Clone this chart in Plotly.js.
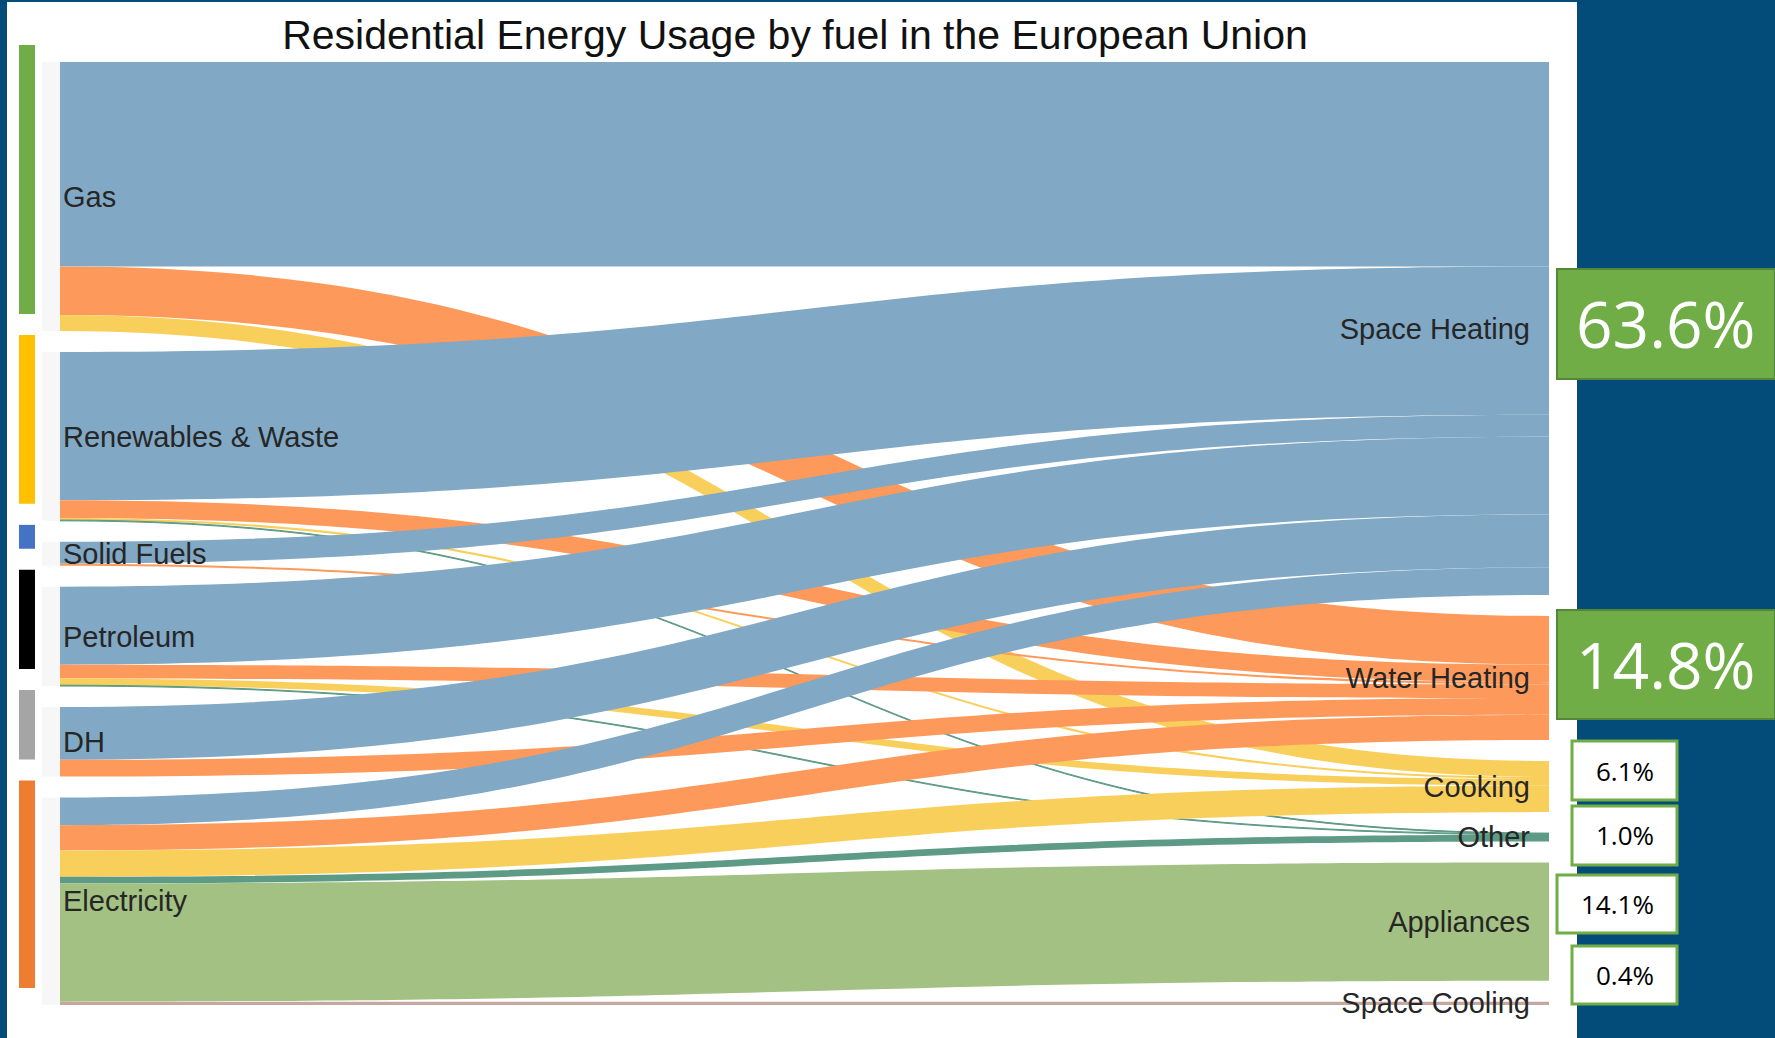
<!DOCTYPE html>
<html>
<head>
<meta charset="utf-8">
<script src="https://cdn.plot.ly/plotly-3.0.1.min.js"></script>
<style>
  html, body { margin: 0; padding: 0; background: #034b78; }
  #chart { width: 1775px; height: 1038px; }
</style>
</head>
<body>
<div id="chart"></div>
<script>
// ---------------- DATA ----------------
const fuels = ['Gas', 'Renewables & Waste', 'Solid Fuels', 'Petroleum', 'DH', 'Electricity'];
const endUses = ['Space Heating', 'Water Heating', 'Cooking', 'Other', 'Appliances', 'Space Cooling'];

// share of total residential energy use (%), fuel -> end use (same order as endUses)
const gasToUse         = [24.4, 5.8,  1.9,  0,   0,    0];
const renewablesToUse  = [17.7, 2.1,  0.25, 0.1, 0,    0];
const solidFuelsToUse  = [2.6,  0.25, 0,    0,   0,    0];
const petroleumToUse   = [9.3,  1.65, 0.8,  0.1, 0,    0];
const dhToUse          = [6.3,  2.0,  0,    0,   0,    0];
const electricityToUse = [3.3,  3.0,  3.15, 0.8, 14.1, 0.4];

const flows = [gasToUse, renewablesToUse, solidFuelsToUse, petroleumToUse, dhToUse, electricityToUse];

// ---------------- STYLE ----------------
const W = 1775, H = 1038;
const fuelBarColors = ['#70ad47', '#ffc000', '#4472c4', '#000000', '#a5a5a5', '#ed7d31'];
const useColors = ['#81a8c4', '#fd9a5b', '#f9cf5c', '#5e9b86', '#a2c183', '#c4a8a0'];
const sankeyTop = 62, sankeyBottom = 1005, sankeyLeft = 42, sankeyRight = 1567;
const nodePad = 21, nodeThick = 18;

// ---------------- BUILD ----------------
const src = [], tgt = [], val = [], lcol = [];
flows.forEach((row, i) => {
  row.forEach((v, j) => {
    if (v > 0) { src.push(i); tgt.push(fuels.length + j); val.push(v); lcol.push(useColors[j]); }
  });
});

const fuelTotals = flows.map(r => r.reduce((a, b) => a + b, 0));
const useTotals = endUses.map((_, j) => flows.reduce((a, r) => a + r[j], 0));
const grand = fuelTotals.reduce((a, b) => a + b, 0);

const nodeColors = fuels.map(() => '#f7f7f7').concat(endUses.map(() => '#ffffff'));

const trace = {
  type: 'sankey',
  orientation: 'h',
  arrangement: 'freeform',
  hoverinfo: 'none',
  domain: { x: [sankeyLeft / W, sankeyRight / W], y: [1 - sankeyBottom / H, 1 - sankeyTop / H] },
  node: {
    label: fuels.concat(endUses),
    color: nodeColors,
    pad: nodePad,
    thickness: nodeThick,
    line: { width: 0 },
    hoverinfo: 'none'
  },
  link: { source: src, target: tgt, value: val, color: lcol, hoverinfo: 'none' },
  textfont: { family: 'Liberation Sans, Arial, sans-serif', size: 29, color: '#262626', shadow: 'none' }
};

const shapes = [];
const annotations = [];

// white panel
shapes.push({ type: 'rect', xref: 'paper', yref: 'paper', layer: 'below',
  x0: 7 / W, x1: 1577 / W, y0: 0, y1: 1 - 2 / H, fillcolor: '#ffffff', line: { width: 0 } });

// left fuel colour bars, sized from the fuel totals with the sankey scale
const k = (sankeyBottom - sankeyTop - (fuels.length - 1) * nodePad) / grand;
let cum = 0;
fuelTotals.forEach((t, i) => {
  const top = sankeyTop + cum * k + i * nodePad - 17;
  const h = t * k;
  shapes.push({ type: 'rect', xref: 'paper', yref: 'paper', layer: 'above',
    x0: 19 / W, x1: 35 / W, y0: 1 - (top + h) / H, y1: 1 - top / H,
    fillcolor: fuelBarColors[i], line: { width: 0 } });
  cum += t;
});

// end-use percentage boxes
const boxes = [
  { x0: 1557, x1: 1775, y0: 269, y1: 379, big: true },
  { x0: 1557, x1: 1775, y0: 610, y1: 719, big: true },
  { x0: 1572, x1: 1677, y0: 741, y1: 800 },
  { x0: 1572, x1: 1677, y0: 806, y1: 865 },
  { x0: 1557, x1: 1677, y0: 875, y1: 933 },
  { x0: 1572, x1: 1677, y0: 946, y1: 1004 }
];
boxes.forEach((b, j) => {
  shapes.push({ type: 'rect', xref: 'paper', yref: 'paper', layer: 'above',
    x0: b.x0 / W, x1: b.x1 / W, y0: 1 - b.y1 / H, y1: 1 - b.y0 / H,
    fillcolor: b.big ? '#70ad47' : '#ffffff',
    line: { color: b.big ? '#54873a' : '#70ad47', width: b.big ? 2 : 3 } });
  annotations.push({ xref: 'paper', yref: 'paper', showarrow: false,
    x: (b.x0 + b.x1) / 2 / W, y: 1 - (b.y0 + b.y1) / 2 / H, xanchor: 'center', yanchor: 'middle',
    text: (useTotals[j] / grand * 100).toFixed(1) + '%',
    font: { family: 'Open Sans, Noto Sans, sans-serif', size: b.big ? 64 : 26, color: b.big ? '#ffffff' : '#000000' } });
});

const layout = {
  width: W, height: H,
  margin: { l: 0, r: 0, t: 0, b: 0, pad: 0 },
  paper_bgcolor: '#034b78',
  plot_bgcolor: '#034b78',
  font: { family: 'Liberation Sans, Arial, sans-serif' },
  title: { text: 'Residential Energy Usage by fuel in the European Union',
    x: 795 / W, xanchor: 'center', y: 1 - 35 / H, yanchor: 'middle', yref: 'container',
    font: { family: 'Liberation Sans, Arial, sans-serif', size: 41, color: '#111111' } },
  shapes: shapes,
  annotations: annotations,
  showlegend: false
};

Plotly.newPlot('chart', [trace], layout, { displayModeBar: false, staticPlot: true }).then(() => {
  // right-column labels sit a little further from the node edge in the original
  document.querySelectorAll('#chart .node-label').forEach(t => {
    if (t.getAttribute('text-anchor') === 'end') {
      const tr = t.getAttribute('transform') || '';
      t.setAttribute('transform', tr + ' translate(-16,0)');
    }
  });
});
</script>
</body>
</html>
